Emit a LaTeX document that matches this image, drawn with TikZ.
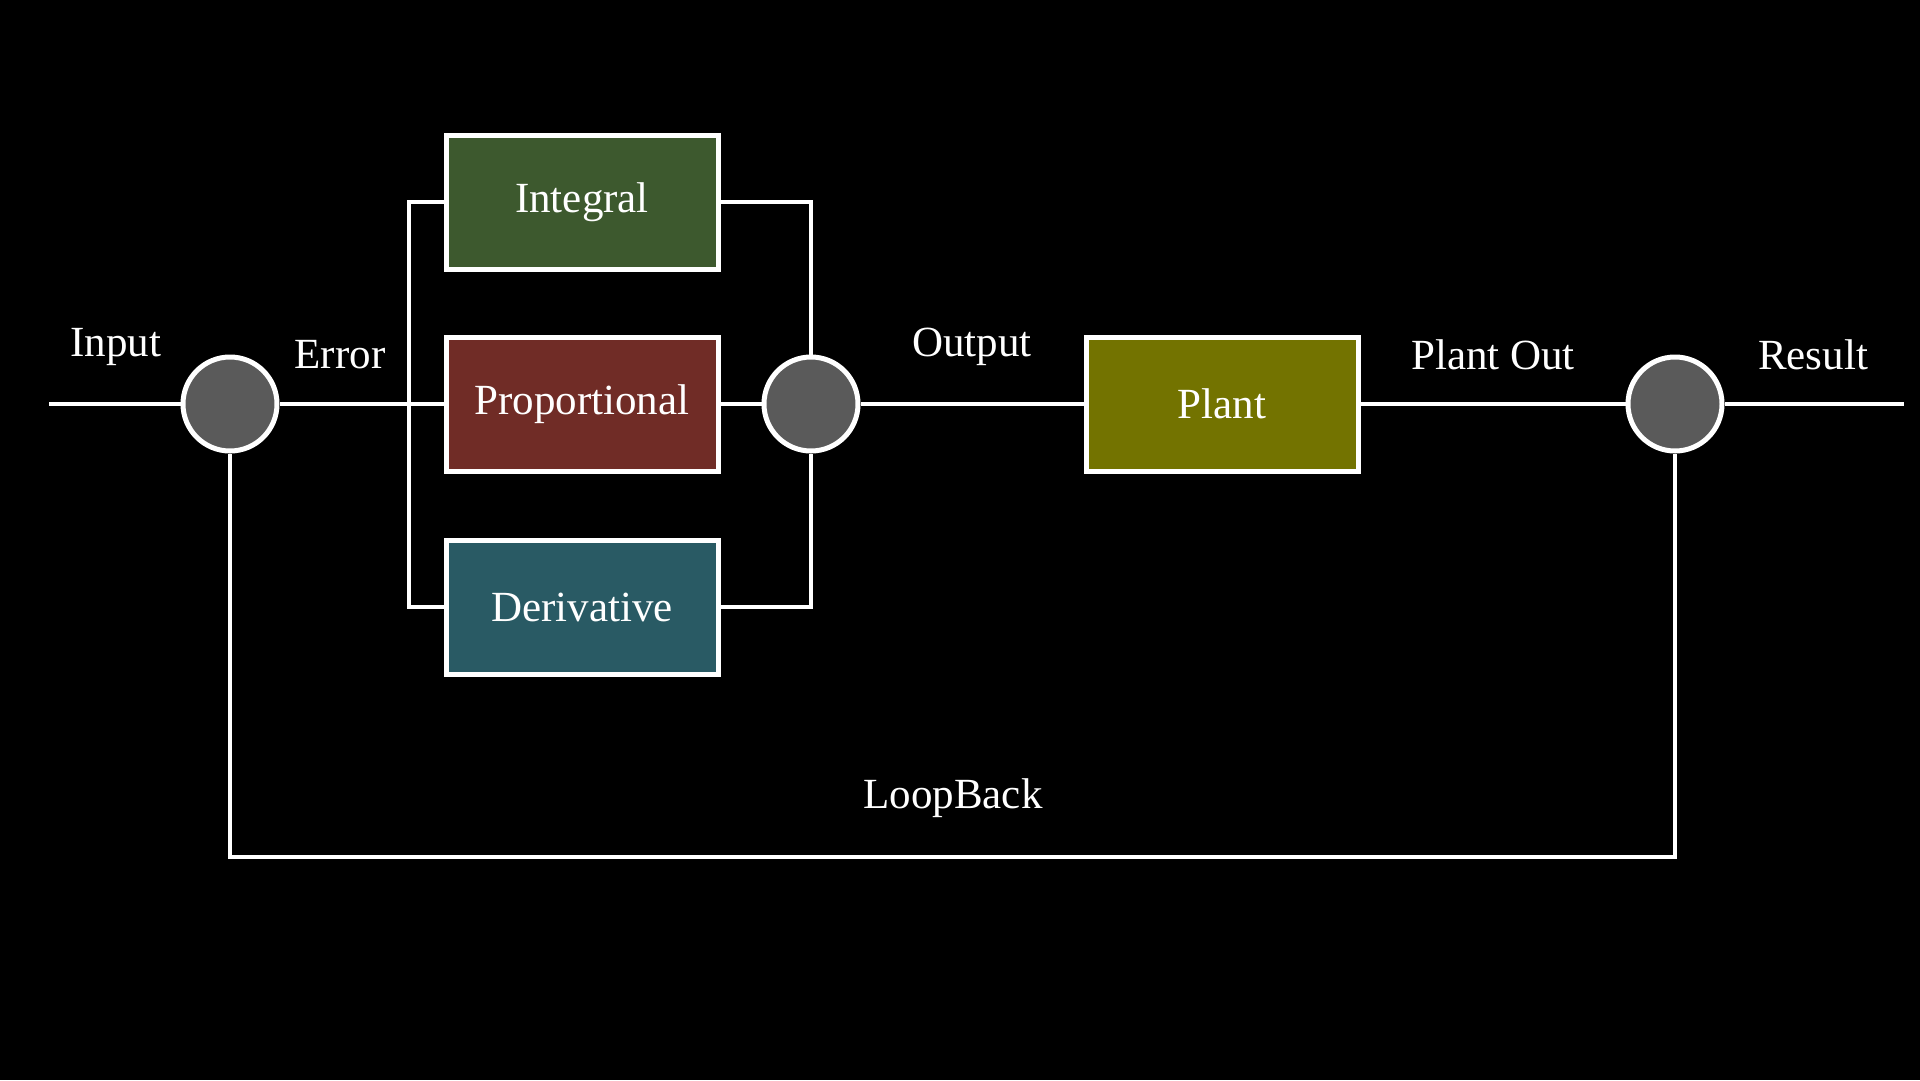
\documentclass[tikz,border=0pt]{standalone}
\usepackage{fontspec}
\setmainfont{Liberation Serif}
\definecolor{intg}{RGB}{61,89,46}
\definecolor{propc}{RGB}{112,44,38}
\definecolor{derc}{RGB}{41,90,100}
\definecolor{plantc}{RGB}{115,115,0}
\definecolor{sumc}{RGB}{90,90,90}
\begin{document}
\begin{tikzpicture}[x=1pt,y=-1pt,
  wire/.style={draw=white,line width=4.5pt},
  block/.style={draw=white,line width=5pt,minimum width=272pt,minimum height=134pt,inner sep=0pt,text=white,font=\fontsize{43}{50}\selectfont},
  sumnode/.style={circle,draw=white,fill=sumc,line width=5pt,minimum size=94pt,inner sep=0pt},
  lbl/.style={text=white,font=\fontsize{43}{50}\selectfont,inner sep=0pt}]
\fill[black] (0,0) rectangle (1920,1080);
\useasboundingbox (0,0) rectangle (1920,1080);
% blocks
\node[block,fill=intg] (int) at (582,202) {Integral};
\node[block,fill=propc] (prop) at (582,404) {Proportional};
\node[block,fill=derc] (der) at (582,607) {Derivative};
\node[block,fill=plantc] (plant) at (1222,404) {Plant};
% summing junctions
\node[sumnode] (c1) at (230,404) {};
\node[sumnode] (c2) at (811,404) {};
\node[sumnode] (c3) at (1675,404) {};
% coordinates
\coordinate (in) at (49,404);
\coordinate (out) at (1904,404);
\coordinate (br) at (409,404);
\coordinate (lbL) at (230,857);
\coordinate (lbR) at (1675,857);
% wires
\draw[wire] (in) -- (c1);
\draw[wire] (c1) -- (prop.west);
\draw[wire] (int.west) -| (br) |- (der.west);
\draw[wire] (int.east) -| (c2);
\draw[wire] (der.east) -| (c2);
\draw[wire] (prop) -- (c2);
\draw[wire] (c2) -- (plant);
\draw[wire] (plant) -- (c3);
\draw[wire] (c3) -- (out);
\draw[wire] (c3) -- (lbR) -- (lbL) -- (c1);
% labels
\node[lbl] (linput) at (116,347) {Input};
\node[lbl] (lerror) at (340,355) {Error};
\node[lbl] (loutput) at (972,347) {Output};
\node[lbl] (lplantout) at (1493,355) {Plant Out};
\node[lbl] (lresult) at (1813,355) {Result};
\node[lbl] (lloop) at (953,798) {LoopBack};
\end{tikzpicture}
\end{document}
